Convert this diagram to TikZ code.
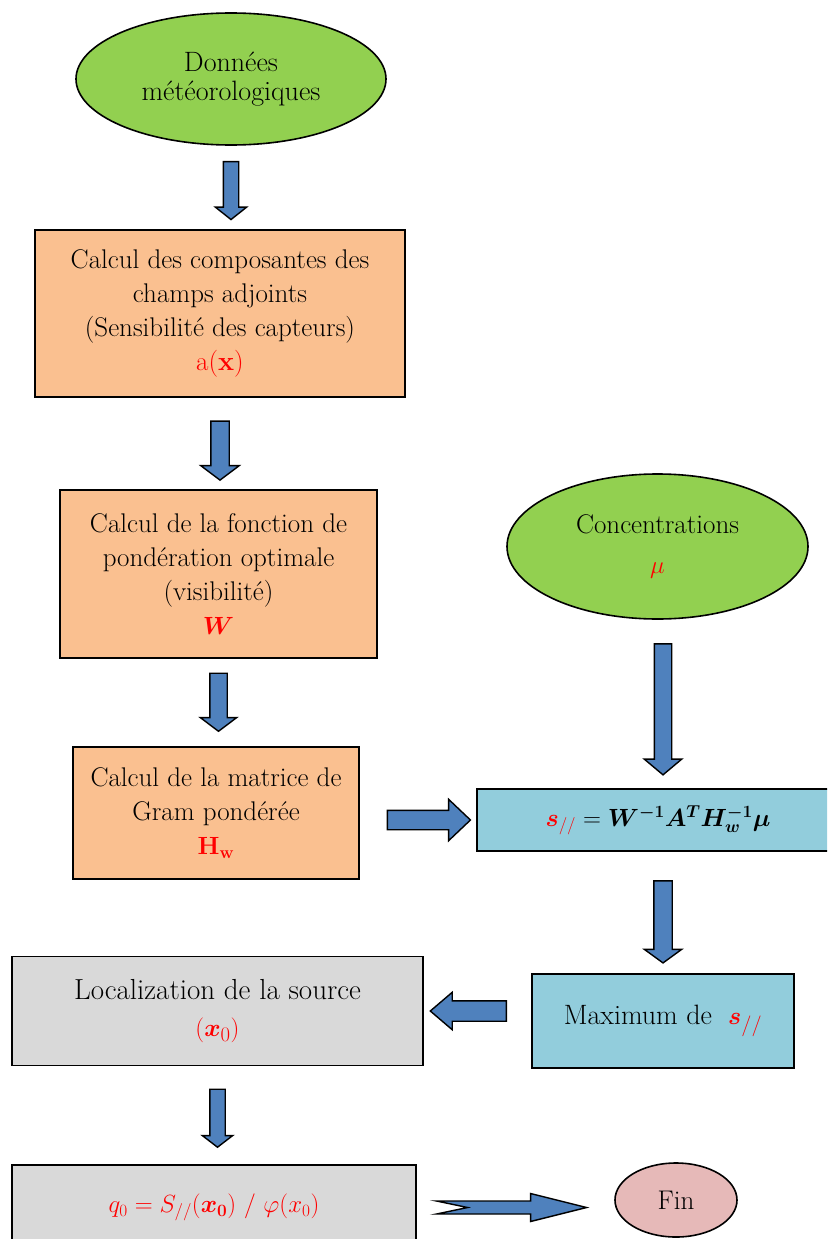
\documentclass[tikz,border=0pt]{standalone}
\usepackage{amsmath,bm}
\usetikzlibrary{shapes.geometric,shapes.arrows,calc}
\definecolor{leafgreen}{HTML}{92D050}
\definecolor{peach}{HTML}{FAC090}
\definecolor{skyblue}{HTML}{92CDDC}
\definecolor{boxgray}{HTML}{D9D9D9}
\definecolor{rosepink}{HTML}{E6B9B8}
\definecolor{arrowblue}{HTML}{4F81BD}
\tikzset{
    txt/.style={align=center, font=\fontsize{27}{34}\selectfont},
    datanode/.style={ellipse, draw, line width=1.6, fill=leafgreen, txt},
    calcbox/.style={rectangle, draw, line width=1.6, fill=peach, txt},
    solvebox/.style={rectangle, draw, line width=1.6, fill=skyblue, txt},
    resultbox/.style={rectangle, draw, line width=1.6, fill=boxgray, txt},
    barrow/.style={single arrow, draw, line width=1.4, fill=arrowblue, inner xsep=0, inner ysep=8,
        minimum width=36, single arrow head extend=10, single arrow tip angle=100,
        sloped, allow upside down},
}
\begin{document}
\begin{tikzpicture}[x=1pt, y=-1pt]
            \useasboundingbox (0,0) rectangle (827,1239);
            \clip (0,0) rectangle (827,1239);
            \node[datanode, minimum width=310, minimum height=132, font=\fontsize{28}{29}\selectfont] (donnees) at (231,79) {Données\\météorologiques};
            \node[calcbox, minimum width=370, minimum height=167] (adjoint) at (220,313.5)
                {Calcul des composantes des\\champs adjoints\\(Sensibilité des capteurs)\\\textcolor{red}{a(\textbf{x})}};
            \node[calcbox, minimum width=317, minimum height=168] (ponder) at (218.5,574)
                {Calcul de la fonction de\\pondération optimale\\(visibilité)\\\textcolor{red}{$\bm{W}$}};
            \node[calcbox, minimum width=286, minimum height=132] (gram) at (216,813)
                {Calcul de la matrice de\\Gram pondérée\\\textcolor{red}{$\mathbf{H_w}$}};
            \node[datanode, minimum width=301, minimum height=145, font=\fontsize{27}{40}\selectfont] (concent) at (657.5,546.5)
                {Concentrations\\\textcolor{red}{$\mu$}};
            \node[solvebox, minimum width=362, minimum height=62, font=\fontsize{25}{34}\selectfont] (solution) at (658,820)
                {$\textcolor{red}{\bm{s}_{//}} = \bm{W^{-1}A^{T}H_{w}^{-1}\mu}$};
            \node[solvebox, minimum width=262, minimum height=94, font=\fontsize{28}{34}\selectfont] (maxsol) at (663,1021)
                {Maximum de \;\textcolor{red}{$\bm{s}_{//}$}};
            \node[resultbox, minimum width=411, minimum height=109, font=\fontsize{29}{37}\selectfont] (locsource) at (217.5,1011)
                {Localization de la source\\\textcolor{red}{$(\bm{x}_0)$}};
            \node[resultbox, minimum width=404, minimum height=85, font=\fontsize{25}{34}\selectfont] (qzero) at (214,1207.5)
                {\textcolor{red}{$q_0 = S_{//}(\bm{x_0})\ /\ \varphi(x_0)$}};
            \node[ellipse, draw, line width=1.6, fill=rosepink, minimum width=122, minimum height=74, txt] (fin) at (676,1200) {Fin};

            \path (donnees.south) -- (donnees.south |- adjoint.north)
                node[barrow, midway, minimum height=58, minimum width=30, inner ysep=7, single arrow head extend=8, single arrow tip angle=103] (a1) {};
            \path (adjoint.south) -- (adjoint.south |- ponder.north)
                node[barrow, pos=0.54, minimum height=59, minimum width=37, inner ysep=8.5, single arrow head extend=10, single arrow tip angle=106] (a2) {};
            \path (ponder.south) -- (ponder.south |- gram.north)
                node[barrow, pos=0.46, minimum height=58, minimum width=35, inner ysep=8, single arrow head extend=9.5, single arrow tip angle=106] (a3) {};
            \path (solution.west -| gram.east) -- (solution.west)
                node[barrow, pos=0.55, minimum height=83, minimum width=40, inner ysep=9, single arrow head extend=11, single arrow tip angle=87] (a4) {};
            \path (concent.south -| maxsol.north) -- (solution.north -| maxsol.north)
                node[barrow, pos=0.51, minimum height=131, minimum width=36, inner ysep=8, single arrow head extend=10, single arrow tip angle=100] (a5) {};
            \path (solution.south -| maxsol.north) -- (maxsol.north)
                node[barrow, pos=0.55, minimum height=82, minimum width=36, inner ysep=8.5, single arrow head extend=9.5, single arrow tip angle=108] (a6) {};
            \path (locsource.east -| maxsol.west) -- (locsource.east)
                node[barrow, pos=0.53, minimum height=76, minimum width=36, inner ysep=9.5, single arrow head extend=8.5, single arrow tip angle=81] (a7) {};
            \path (locsource.south) -- (locsource.south |- qzero.north)
                node[barrow, midway, minimum height=58, minimum width=29, inner ysep=7, single arrow head extend=7.5, single arrow tip angle=105] (a8) {};

            \coordinate (notch) at ($(qzero.east)!0.48!(qzero.east -| fin.west)$);
            \begin{scope}[shift={(notch)}]
                \draw[line width=1.4, fill=arrowblue] (-75,-6.5) -- (19,-6.5) -- (19,-14) -- (75,0) -- (19,14)
                    -- (19,6.5) -- (-75,6.5) -- (-44,0) -- cycle;
            \end{scope}
        \end{tikzpicture}
\end{document}
